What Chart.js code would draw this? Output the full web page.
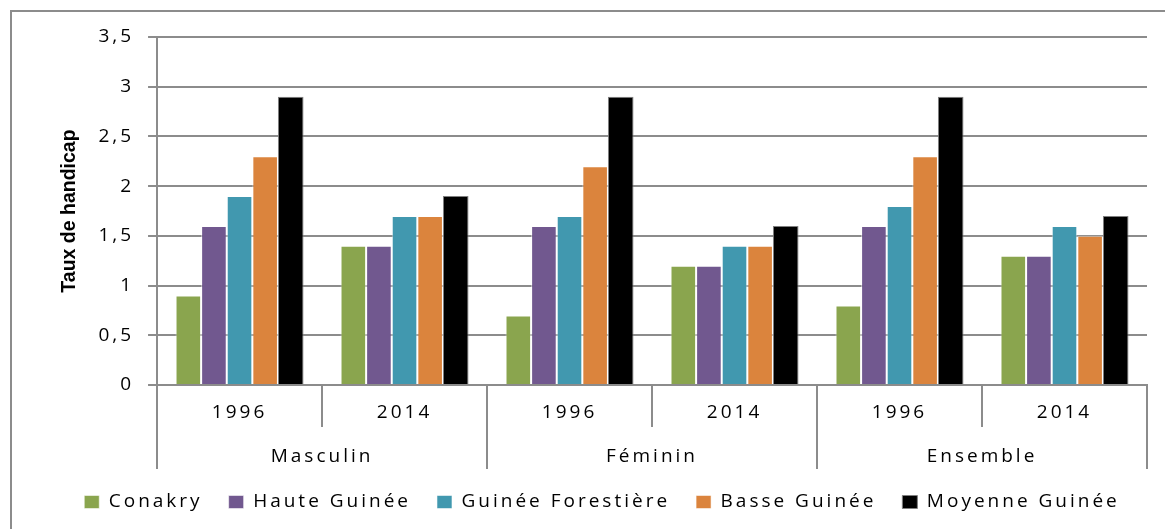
<!DOCTYPE html>
<html>
<head>
<meta charset="utf-8">
<script src="https://cdn.jsdelivr.net/npm/chart.js@4.4.1/dist/chart.umd.min.js"></script>
<style>
  html, body { margin: 0; padding: 0; background: #fff; }
  #wrap { position: relative; width: 1165px; height: 529px; overflow: hidden; }
  #frame { position: absolute; left: 10px; top: 10px; width: 1200px; height: 600px;
           border-left: 2px solid #8c8c8c; border-top: 2px solid #8c8c8c; }
  canvas { position: absolute; left: 0; top: 0; }
</style>
</head>
<body>
<div id="wrap">
  <div id="frame"></div>
  <canvas id="c" width="1165" height="529"></canvas>
</div>
<script>
// ---- data ----
const years = ['1996', '2014', '1996', '2014', '1996', '2014'];
const groups = ['Masculin', 'Féminin', 'Ensemble'];
const seriesNames = ['Conakry', 'Haute Guinée', 'Guinée Forestière', 'Basse Guinée', 'Moyenne Guinée'];
const conakry          = [0.9, 1.4, 0.7, 1.2, 0.8, 1.3];
const hauteGuinee      = [1.6, 1.4, 1.6, 1.2, 1.6, 1.3];
const guineeForestiere = [1.9, 1.7, 1.7, 1.4, 1.8, 1.6];
const basseGuinee      = [2.3, 1.7, 2.2, 1.4, 2.3, 1.5];
const moyenneGuinee    = [2.9, 1.9, 2.9, 1.6, 2.9, 1.7];
const yTicks = [0, 0.5, 1, 1.5, 2, 2.5, 3, 3.5];
const yTitle = 'Taux de handicap';

const colors = ['#8aa54e', '#71588f', '#4198af', '#db843d', '#000000'];
const seriesValues = [conakry, hauteGuinee, guineeForestiere, basseGuinee, moyenneGuinee];

const GRID = '#8c8c8c';
const FONT = "'Open Sans', 'Noto Sans', sans-serif";
const FS = 19;
const SPACING = '3px';

Chart.defaults.color = '#000';

const spacingPlugin = {
  id: 'spacing',
  beforeLayout(chart) { chart.ctx.letterSpacing = SPACING; },
  afterLayout(chart) {
    const ys = chart.scales.y;
    if (ys && !ys._noSpacingTitle) {
      const orig = ys.drawTitle;
      ys.drawTitle = function () {
        const c = this.ctx; const prev = c.letterSpacing;
        c.letterSpacing = '0px';
        orig.apply(this, arguments);
        c.letterSpacing = prev;
      };
      ys._noSpacingTitle = true;
    }
  },
  beforeDraw(chart) { chart.ctx.letterSpacing = SPACING; }
};

new Chart(document.getElementById('c'), {
  type: 'bar',
  data: {
    labels: years,
    datasets: seriesNames.map((name, i) => ({
      label: name,
      data: seriesValues[i],
      backgroundColor: colors[i],
      borderColor: i === 4 ? '#7f7f7f' : 'rgba(255,255,255,0.55)',
      borderWidth: 1,
      categoryPercentage: 0.776,
      barPercentage: 1.0,
      xAxisID: 'x',
      yAxisID: 'y'
    }))
  },
  options: {
    responsive: false,
    animation: false,
    layout: { padding: { left: 57, top: 37, right: 18, bottom: 7.5 } },
    plugins: {
      legend: {
        position: 'bottom',
        labels: {
          boxWidth: 15, boxHeight: 13, padding: 26,
          font: { family: FONT, size: FS }, color: '#000'
        }
      },
      tooltip: { enabled: false }
    },
    scales: {
      y: {
        min: 0, max: 3.5,
        afterBuildTicks: (s) => { s.ticks = yTicks.map(v => ({ value: v })); },
        ticks: {
          padding: 14,
          font: { family: FONT, size: FS }, color: '#000',
          callback: (v) => String(v).replace('.', ',')
        },
        grid: { color: GRID, lineWidth: 2, tickLength: 9 },
        border: { color: GRID, width: 2 },
        title: {
          display: true, text: yTitle,
          font: { family: "'Liberation Sans Narrow', 'Liberation Sans', sans-serif", size: 19.5, weight: 'bold' },
          color: '#000',
          padding: { top: 1, bottom: 3 }
        }
      },
      x: {
        type: 'category',
        offset: true,
        afterFit: (s) => { s.height = 42; },
        ticks: { padding: -25.4, font: { family: FONT, size: FS }, color: '#000', autoSkip: false, maxRotation: 0 },
        grid: { display: true, drawOnChartArea: false, offset: true, tickLength: 42, color: GRID, lineWidth: 2 },
        border: { color: GRID, width: 2 }
      },
      x2: {
        type: 'category',
        position: 'bottom',
        labels: groups,
        offset: true,
        afterFit: (s) => { s.height = 39.5; },
        ticks: { padding: -23.4, font: { family: FONT, size: FS }, color: '#000', autoSkip: false, maxRotation: 0 },
        grid: { display: true, drawOnChartArea: false, offset: true, tickLength: 42, color: GRID, lineWidth: 2 },
        border: { display: false }
      }
    }
  },
  plugins: [spacingPlugin]
});
</script>
</body>
</html>
